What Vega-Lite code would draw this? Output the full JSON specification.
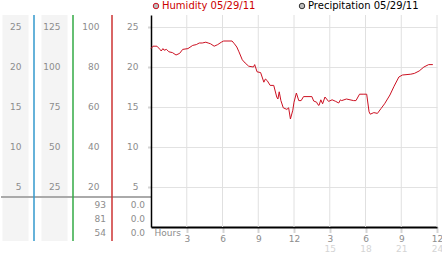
{
  "$schema": "https://vega.github.io/schema/vega-lite/v6.json",
  "padding": {"left": 0, "top": 1, "right": 5, "bottom": 0},
  "background": "white",
  "bounds": "flush",
  "spacing": 0,
  "resolve": {"scale": {"color": "independent"}, "legend": {"color": "independent"}},
  "config": {
    "view": {"stroke": null},
    "text": {"font": "DejaVu Sans"},
    "axis": {"labelFont": "DejaVu Sans"},
    "legend": {"labelFont": "DejaVu Sans"}
  },
  "datasets": {
    "humidity": [
      {"h": 0.0, "hum": 89.2, "series": "Humidity 05/29/11"},
      {"h": 0.17, "hum": 90.4, "series": "Humidity 05/29/11"},
      {"h": 0.5, "hum": 90.4, "series": "Humidity 05/29/11"},
      {"h": 0.75, "hum": 88.8, "series": "Humidity 05/29/11"},
      {"h": 0.86, "hum": 88.0, "series": "Humidity 05/29/11"},
      {"h": 1.0, "hum": 89.2, "series": "Humidity 05/29/11"},
      {"h": 1.1, "hum": 88.4, "series": "Humidity 05/29/11"},
      {"h": 1.3, "hum": 88.8, "series": "Humidity 05/29/11"},
      {"h": 1.5, "hum": 87.6, "series": "Humidity 05/29/11"},
      {"h": 1.8, "hum": 87.2, "series": "Humidity 05/29/11"},
      {"h": 2.1, "hum": 86.0, "series": "Humidity 05/29/11"},
      {"h": 2.4, "hum": 86.8, "series": "Humidity 05/29/11"},
      {"h": 2.66, "hum": 88.8, "series": "Humidity 05/29/11"},
      {"h": 3.1, "hum": 89.2, "series": "Humidity 05/29/11"},
      {"h": 3.5, "hum": 90.8, "series": "Humidity 05/29/11"},
      {"h": 3.8, "hum": 91.2, "series": "Humidity 05/29/11"},
      {"h": 4.05, "hum": 92.0, "series": "Humidity 05/29/11"},
      {"h": 4.3, "hum": 92.0, "series": "Humidity 05/29/11"},
      {"h": 4.6, "hum": 92.4, "series": "Humidity 05/29/11"},
      {"h": 4.8, "hum": 92.0, "series": "Humidity 05/29/11"},
      {"h": 5.0, "hum": 91.6, "series": "Humidity 05/29/11"},
      {"h": 5.3, "hum": 90.4, "series": "Humidity 05/29/11"},
      {"h": 5.6, "hum": 91.2, "series": "Humidity 05/29/11"},
      {"h": 5.9, "hum": 92.4, "series": "Humidity 05/29/11"},
      {"h": 6.1, "hum": 93.0, "series": "Humidity 05/29/11"},
      {"h": 6.8, "hum": 93.0, "series": "Humidity 05/29/11"},
      {"h": 7.0, "hum": 91.6, "series": "Humidity 05/29/11"},
      {"h": 7.2, "hum": 90.0, "series": "Humidity 05/29/11"},
      {"h": 7.38, "hum": 87.6, "series": "Humidity 05/29/11"},
      {"h": 7.66, "hum": 83.6, "series": "Humidity 05/29/11"},
      {"h": 7.9, "hum": 82.0, "series": "Humidity 05/29/11"},
      {"h": 8.2, "hum": 80.4, "series": "Humidity 05/29/11"},
      {"h": 8.6, "hum": 80.0, "series": "Humidity 05/29/11"},
      {"h": 8.7, "hum": 81.2, "series": "Humidity 05/29/11"},
      {"h": 8.9, "hum": 77.6, "series": "Humidity 05/29/11"},
      {"h": 9.2, "hum": 77.2, "series": "Humidity 05/29/11"},
      {"h": 9.47, "hum": 72.4, "series": "Humidity 05/29/11"},
      {"h": 9.6, "hum": 74.0, "series": "Humidity 05/29/11"},
      {"h": 9.75, "hum": 73.2, "series": "Humidity 05/29/11"},
      {"h": 10.0, "hum": 70.8, "series": "Humidity 05/29/11"},
      {"h": 10.3, "hum": 70.8, "series": "Humidity 05/29/11"},
      {"h": 10.55, "hum": 65.0, "series": "Humidity 05/29/11"},
      {"h": 10.65, "hum": 64.0, "series": "Humidity 05/29/11"},
      {"h": 10.76, "hum": 67.6, "series": "Humidity 05/29/11"},
      {"h": 10.9, "hum": 63.2, "series": "Humidity 05/29/11"},
      {"h": 11.1, "hum": 59.6, "series": "Humidity 05/29/11"},
      {"h": 11.4, "hum": 58.8, "series": "Humidity 05/29/11"},
      {"h": 11.55, "hum": 59.6, "series": "Humidity 05/29/11"},
      {"h": 11.7, "hum": 54.0, "series": "Humidity 05/29/11"},
      {"h": 11.9, "hum": 58.4, "series": "Humidity 05/29/11"},
      {"h": 12.0, "hum": 62.4, "series": "Humidity 05/29/11"},
      {"h": 12.2, "hum": 67.0, "series": "Humidity 05/29/11"},
      {"h": 12.4, "hum": 63.2, "series": "Humidity 05/29/11"},
      {"h": 12.6, "hum": 63.2, "series": "Humidity 05/29/11"},
      {"h": 12.8, "hum": 65.2, "series": "Humidity 05/29/11"},
      {"h": 13.5, "hum": 65.2, "series": "Humidity 05/29/11"},
      {"h": 13.65, "hum": 63.0, "series": "Humidity 05/29/11"},
      {"h": 13.9, "hum": 62.4, "series": "Humidity 05/29/11"},
      {"h": 14.0, "hum": 61.2, "series": "Humidity 05/29/11"},
      {"h": 14.1, "hum": 60.8, "series": "Humidity 05/29/11"},
      {"h": 14.25, "hum": 63.6, "series": "Humidity 05/29/11"},
      {"h": 14.4, "hum": 61.6, "series": "Humidity 05/29/11"},
      {"h": 14.6, "hum": 65.0, "series": "Humidity 05/29/11"},
      {"h": 14.9, "hum": 62.8, "series": "Humidity 05/29/11"},
      {"h": 15.2, "hum": 63.6, "series": "Humidity 05/29/11"},
      {"h": 15.5, "hum": 62.8, "series": "Humidity 05/29/11"},
      {"h": 15.75, "hum": 62.0, "series": "Humidity 05/29/11"},
      {"h": 15.9, "hum": 63.6, "series": "Humidity 05/29/11"},
      {"h": 16.0, "hum": 63.2, "series": "Humidity 05/29/11"},
      {"h": 16.4, "hum": 64.0, "series": "Humidity 05/29/11"},
      {"h": 16.7, "hum": 63.6, "series": "Humidity 05/29/11"},
      {"h": 17.0, "hum": 63.2, "series": "Humidity 05/29/11"},
      {"h": 17.2, "hum": 63.2, "series": "Humidity 05/29/11"},
      {"h": 17.5, "hum": 66.4, "series": "Humidity 05/29/11"},
      {"h": 17.8, "hum": 66.4, "series": "Humidity 05/29/11"},
      {"h": 18.1, "hum": 66.4, "series": "Humidity 05/29/11"},
      {"h": 18.3, "hum": 57.6, "series": "Humidity 05/29/11"},
      {"h": 18.4, "hum": 56.4, "series": "Humidity 05/29/11"},
      {"h": 18.7, "hum": 57.2, "series": "Humidity 05/29/11"},
      {"h": 19.0, "hum": 56.8, "series": "Humidity 05/29/11"},
      {"h": 19.3, "hum": 59.2, "series": "Humidity 05/29/11"},
      {"h": 19.6, "hum": 61.6, "series": "Humidity 05/29/11"},
      {"h": 20.05, "hum": 66.0, "series": "Humidity 05/29/11"},
      {"h": 20.4, "hum": 70.4, "series": "Humidity 05/29/11"},
      {"h": 20.8, "hum": 75.0, "series": "Humidity 05/29/11"},
      {"h": 21.1, "hum": 76.0, "series": "Humidity 05/29/11"},
      {"h": 21.8, "hum": 76.4, "series": "Humidity 05/29/11"},
      {"h": 22.1, "hum": 76.8, "series": "Humidity 05/29/11"},
      {"h": 22.5, "hum": 78.0, "series": "Humidity 05/29/11"},
      {"h": 22.9, "hum": 80.0, "series": "Humidity 05/29/11"},
      {"h": 23.3, "hum": 81.2, "series": "Humidity 05/29/11"},
      {"h": 23.65, "hum": 81.2, "series": "Humidity 05/29/11"}
    ],
    "columns": [
      {"col": 1, "name": "A"},
      {"col": 2, "name": "B"},
      {"col": 3, "name": "C"}
    ],
    "tickLabels": [
      {"col": 1, "tick": 100, "label": "25"}, {"col": 2, "tick": 100, "label": "125"}, {"col": 3, "tick": 100, "label": "100"}, {"col": 4, "tick": 100, "label": "25"},
      {"col": 1, "tick": 80, "label": "20"}, {"col": 2, "tick": 80, "label": "100"}, {"col": 3, "tick": 80, "label": "80"}, {"col": 4, "tick": 80, "label": "20"},
      {"col": 1, "tick": 60, "label": "15"}, {"col": 2, "tick": 60, "label": "75"}, {"col": 3, "tick": 60, "label": "60"}, {"col": 4, "tick": 60, "label": "15"},
      {"col": 1, "tick": 40, "label": "10"}, {"col": 2, "tick": 40, "label": "50"}, {"col": 3, "tick": 40, "label": "40"}, {"col": 4, "tick": 40, "label": "10"},
      {"col": 1, "tick": 20, "label": "5"}, {"col": 2, "tick": 20, "label": "25"}, {"col": 3, "tick": 20, "label": "20"}, {"col": 4, "tick": 20, "label": "5"}
    ],
    "readouts": [
      {"col": 3, "row": 1, "label": "93"}, {"col": 4, "row": 1, "label": "0.0"},
      {"col": 3, "row": 2, "label": "81"}, {"col": 4, "row": 2, "label": "0.0"},
      {"col": 3, "row": 3, "label": "54"}, {"col": 4, "row": 3, "label": "0.0"}
    ],
    "hours": [
      {"hour": 3}, {"hour": 6}, {"hour": 9}, {"hour": 12},
      {"hour": 15}, {"hour": 18}, {"hour": 21}, {"hour": 24}
    ]
  },
  "hconcat": [
    {
      "width": 150,
      "height": 226,
      "resolve": {"scale": {"y": "independent"}},
      "layer": [
        {
          "data": {"name": "columns"},
          "transform": [{"filter": "datum.col <= 2"}],
          "mark": {"type": "rule", "strokeWidth": 26, "xOffset": -18.5, "color": "#f4f4f4"},
          "encoding": {
            "x": {"field": "col", "type": "quantitative", "scale": {"domain": [0.1538, 4], "nice": false}, "axis": null}
          }
        },
        {
          "data": {"values": [{}]},
          "mark": {"type": "rule", "strokeWidth": 2, "color": "#aaaaaa"},
          "encoding": {
            "y": {"datum": 15, "type": "quantitative", "scale": {"domain": [-7, 106], "nice": false}, "axis": null}
          }
        },
        {
          "data": {"name": "columns"},
          "mark": {"type": "rule", "strokeWidth": 1.5},
          "encoding": {
            "x": {"field": "col", "type": "quantitative", "scale": {"domain": [0.1538, 4], "nice": false}, "axis": null},
            "color": {"field": "name", "type": "nominal", "scale": {"domain": ["A", "B", "C"], "range": ["#3399cc", "#33aa44", "#cc3333"]}, "legend": null}
          }
        },
        {
          "data": {"name": "tickLabels"},
          "mark": {"type": "text", "align": "right", "baseline": "middle", "dx": -12.5, "fontSize": 9, "color": "#8c8c8c"},
          "encoding": {
            "x": {"field": "col", "type": "quantitative", "scale": {"domain": [0.1538, 4], "nice": false}, "axis": null},
            "y": {"field": "tick", "type": "quantitative", "scale": {"domain": [-7, 106], "nice": false}, "axis": null},
            "text": {"field": "label"}
          }
        },
        {
          "data": {"name": "readouts"},
          "mark": {"type": "text", "align": "right", "baseline": "middle", "dx": -6, "fontSize": 9, "color": "#8c8c8c"},
          "encoding": {
            "x": {"field": "col", "type": "quantitative", "scale": {"domain": [0.1538, 4], "nice": false}, "axis": null},
            "y": {"field": "row", "type": "quantitative", "scale": {"domain": [-12.5714, 3.5714], "nice": false, "zero": false, "reverse": true}, "axis": null},
            "text": {"field": "label"}
          }
        }
      ]
    },
    {
      "width": 286,
      "height": 212,
      "resolve": {"scale": {"x": "independent"}, "axis": {"x": "independent"}},
      "layer": [
        {
          "data": {"name": "hours"},
          "mark": {"type": "rule", "color": "#e0e0e0", "strokeWidth": 1},
          "encoding": {
            "x": {
              "field": "hour", "type": "quantitative",
              "scale": {"domain": [0, 24], "nice": false},
              "axis": {
                "orient": "bottom",
                "values": [3, 6, 9, 12, 15, 18, 21, 24],
                "domain": false, "ticks": false, "grid": false,
                "labelExpr": "datum.value > 12 ? '' + datum.value : ''",
                "labelColor": "#d4d4d4", "labelFontSize": 9, "labelPadding": 17,
                "labelFlush": false, "labelOverlap": false, "title": null
              }
            }
          }
        },
        {
          "data": {"name": "humidity"},
          "mark": {"type": "line", "strokeWidth": 1},
          "encoding": {
            "x": {
              "field": "h", "type": "quantitative",
              "scale": {"domain": [0, 24], "nice": false},
              "axis": {
                "orient": "bottom",
                "values": [0, 3, 6, 9, 12, 15, 18, 21, 24],
                "grid": false,
                "domainColor": "#000000", "domainWidth": 2,
                "tickSize": 5, "tickWidth": 2, "tickDash": [1, 1], "tickColor": "#aaaaaa",
                "tickOpacity": {"condition": {"test": "datum.value == 0", "value": 0}, "value": 1},
                "labelExpr": "datum.value == 0 ? 'Hours' : (datum.value % 12 == 0 ? '12' : '' + (datum.value % 12))",
                "labelFontSize": 9, "labelColor": "#8c8c8c",
                "labelPadding": {"condition": {"test": "datum.value == 0", "value": 0}, "value": 2},
                "labelAlign": {"condition": {"test": "datum.value == 0", "value": "left"}, "value": "center"},
                "labelBaseline": {"condition": {"test": "datum.value == 0", "value": "middle"}, "value": "top"},
                "labelOffset": {"condition": {"test": "datum.value == 0", "value": 3}, "value": 0},
                "labelFlush": false, "labelOverlap": false, "title": null
              }
            },
            "y": {
              "field": "hum", "type": "quantitative",
              "scale": {"domain": [0, 106], "nice": false},
              "axis": {
                "values": [20, 40, 60, 80, 100],
                "labels": false, "grid": true, "gridColor": "#e2e2e2",
                "tickSize": 4, "tickWidth": 2, "tickDash": [1, 1], "tickColor": "#aaaaaa",
                "domainColor": "#000000", "domainWidth": 1.5, "title": null
              }
            },
            "color": {
              "field": "series", "type": "nominal",
              "scale": {"domain": ["Humidity 05/29/11", "Precipitation 05/29/11"], "range": ["#cc1122", "#333333"]},
              "legend": {
                "orient": "none", "legendX": 0, "legendY": -14,
                "direction": "horizontal", "title": null,
                "symbolType": "circle", "symbolSize": 30,
                "labelFontSize": 10, "labelOffset": 1, "columnPadding": 41,
                "labelColor": {"expr": "datum.label == 'Humidity 05/29/11' ? '#cc0000' : '#000000'"},
                "encode": {
                  "symbols": {"update": {"fill": {"value": "#bbbbbb"}, "stroke": {"value": "#999999"}, "strokeWidth": {"value": 1}}}
                }
              }
            }
          }
        }
      ]
    }
  ]
}
